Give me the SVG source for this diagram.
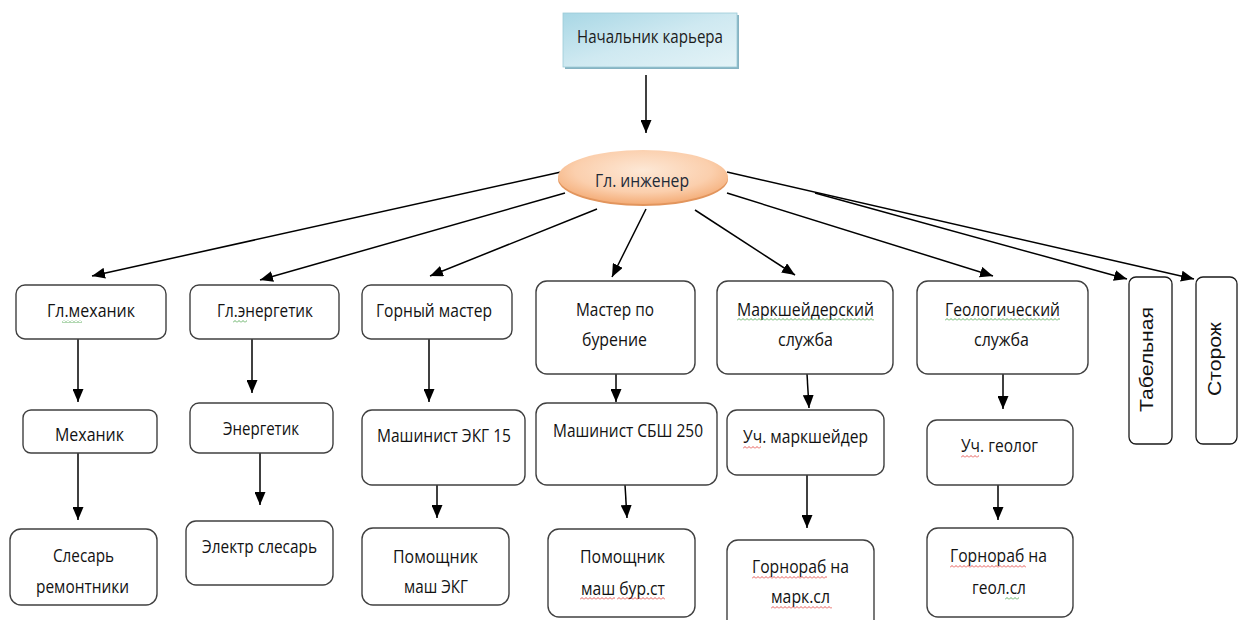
<svg xmlns="http://www.w3.org/2000/svg" width="1246" height="620" viewBox="0 0 1246 620">
  <style>
    .box { fill: #ffffff; stroke: #404040; stroke-width: 1.4; }
    .vbox { fill: #ffffff; stroke: #1a1a1a; stroke-width: 1.3; }
    .t { font-family: "Open Sans", "Noto Sans", sans-serif; font-size: 19px; fill: #121212; }
    .vt { font-family: "Liberation Sans", Arial, sans-serif; font-size: 19px; fill: #121212; }
    .head { fill: #1c1c1c; }
    .chief { fill: #1e2a38; }
  </style>
  <defs>
    <linearGradient id="headFill" x1="0" y1="0" x2="1" y2="1">
      <stop offset="0" stop-color="#a8d7e5"/>
      <stop offset="0.5" stop-color="#cfe9f1"/>
      <stop offset="1" stop-color="#e4f3f7"/>
    </linearGradient>
    <radialGradient id="chiefFill" cx="0.5" cy="0.38" r="0.62">
      <stop offset="0" stop-color="#fde8d6"/>
      <stop offset="0.65" stop-color="#fbcfad"/>
      <stop offset="1" stop-color="#f4ad78"/>
    </radialGradient>
    <marker id="arrow" markerUnits="userSpaceOnUse" viewBox="0 0 13 11" markerWidth="13" markerHeight="11" refX="13" refY="5.5" orient="auto">
      <path d="M0,0 L13,5.5 L0,11 z" fill="#000000"/>
    </marker>
    <pattern id="wavyRed" width="4" height="3" patternUnits="userSpaceOnUse">
      <path d="M0,2.5 L2,0.5 L4,2.5" fill="none" stroke="#e0302a" stroke-width="0.8"/>
    </pattern>
    <pattern id="wavyGreen" width="4" height="3" patternUnits="userSpaceOnUse">
      <path d="M0,2.5 L2,0.5 L4,2.5" fill="none" stroke="#3c9a3c" stroke-width="0.8"/>
    </pattern>
  </defs>

  <rect width="1246" height="620" fill="#ffffff"/>

  <!-- connectors -->
  <g id="connectors" fill="none" stroke="#000000" stroke-width="1.5" marker-end="url(#arrow)">
    <line x1="646" y1="75" x2="646" y2="133"/>
    <line x1="561" y1="172" x2="92" y2="276"/>
    <line x1="565" y1="193" x2="260" y2="280"/>
    <line x1="597" y1="209" x2="430" y2="276"/>
    <line x1="646" y1="209" x2="612" y2="277"/>
    <line x1="695" y1="210" x2="795" y2="275"/>
    <line x1="727" y1="193" x2="993" y2="276"/>
    <line x1="727" y1="172" x2="1194" y2="279"/>
    <line x1="815" y1="193" x2="1127" y2="279"/>

    <line x1="78" y1="339" x2="78" y2="402"/>
    <line x1="78" y1="453" x2="78" y2="520"/>
    <line x1="252" y1="339" x2="252" y2="393"/>
    <line x1="260" y1="453" x2="260" y2="505"/>
    <line x1="429" y1="339" x2="429" y2="402"/>
    <line x1="437" y1="485" x2="437" y2="518"/>
    <line x1="616" y1="374" x2="616" y2="402"/>
    <line x1="625" y1="485" x2="627" y2="518"/>
    <line x1="807" y1="374" x2="809" y2="408"/>
    <line x1="807" y1="475" x2="807" y2="528"/>
    <line x1="1003" y1="374" x2="1003" y2="409"/>
    <line x1="998" y1="485" x2="998" y2="520"/>
  </g>

  <!-- top level -->
  <g id="node-head">
    <rect x="565" y="15" width="174" height="54" fill="#86b3c2"/>
    <rect x="563" y="13" width="174" height="54" fill="url(#headFill)" stroke="#9ccad8" stroke-width="0.8"/>
    <text class="t head" x="577" y="43" textLength="146" lengthAdjust="spacingAndGlyphs">Начальник карьера</text>
  </g>

  <g id="node-chief-engineer">
    <ellipse cx="643" cy="179" rx="85" ry="27" fill="#e2955d"/>
    <ellipse cx="643" cy="177" rx="85" ry="27" fill="url(#chiefFill)"/>
    <text class="t chief" x="595" y="187" textLength="94" lengthAdjust="spacingAndGlyphs">Гл. инженер</text>
  </g>

  <!-- second level -->
  <g id="node-chief-mechanic">
    <rect class="box" x="16" y="285" width="150" height="54" rx="9"/>
    <text class="t" x="47" y="317" textLength="88" lengthAdjust="spacingAndGlyphs">Гл.механик</text>
    <rect x="62" y="320" width="20" height="3" fill="url(#wavyGreen)" transform="translate(0,0)"/>
  </g>
  <g id="node-chief-power">
    <rect class="box" x="190" y="285" width="149" height="54" rx="9"/>
    <text class="t" x="217" y="317" textLength="96" lengthAdjust="spacingAndGlyphs">Гл.энергетик</text>
    <rect width="14" height="3" fill="url(#wavyGreen)" transform="translate(233,320)"/>
  </g>
  <g id="node-mining-foreman">
    <rect class="box" x="362" y="285" width="150" height="54" rx="9"/>
    <text class="t" x="376" y="317" textLength="116" lengthAdjust="spacingAndGlyphs">Горный мастер</text>
  </g>
  <g id="node-drilling-foreman">
    <rect class="box" x="536" y="281" width="159" height="93" rx="11"/>
    <text class="t" x="576" y="316" textLength="78" lengthAdjust="spacingAndGlyphs">Мастер по</text>
    <text class="t" x="582" y="346" textLength="65" lengthAdjust="spacingAndGlyphs">бурение</text>
  </g>
  <g id="node-survey">
    <rect class="box" x="717" y="281" width="176" height="93" rx="11"/>
    <text class="t" x="737" y="316" textLength="137" lengthAdjust="spacingAndGlyphs">Маркшейдерский</text>
    <rect width="137" height="3" fill="url(#wavyGreen)" transform="translate(737,318)"/>
    <text class="t" x="778" y="346" textLength="55" lengthAdjust="spacingAndGlyphs">служба</text>
  </g>
  <g id="node-geology">
    <rect class="box" x="917" y="281" width="171" height="93" rx="11"/>
    <text class="t" x="945" y="316" textLength="115" lengthAdjust="spacingAndGlyphs">Геологический</text>
    <rect width="115" height="3" fill="url(#wavyGreen)" transform="translate(945,318)"/>
    <text class="t" x="974" y="346" textLength="55" lengthAdjust="spacingAndGlyphs">служба</text>
  </g>
  <g id="node-timekeeper">
    <rect class="vbox" x="1129" y="277" width="43" height="167" rx="7"/>
    <text class="vt" transform="translate(1153,412) rotate(-90)" textLength="105" lengthAdjust="spacingAndGlyphs">Табельная</text>
  </g>
  <g id="node-watchman">
    <rect class="vbox" x="1196" y="277" width="41" height="167" rx="7"/>
    <text class="vt" transform="translate(1221,396) rotate(-90)" textLength="74" lengthAdjust="spacingAndGlyphs">Сторож</text>
  </g>

  <!-- third level -->
  <g id="node-mechanic">
    <rect class="box" x="23" y="410" width="134" height="43" rx="8"/>
    <text class="t" x="55" y="441" textLength="69" lengthAdjust="spacingAndGlyphs">Механик</text>
  </g>
  <g id="node-power-engineer">
    <rect class="box" x="190" y="403" width="143" height="50" rx="9"/>
    <text class="t" x="223" y="435" textLength="76" lengthAdjust="spacingAndGlyphs">Энергетик</text>
  </g>
  <g id="node-ekg-operator">
    <rect class="box" x="362" y="410" width="163" height="75" rx="10"/>
    <text class="t" x="377" y="442" textLength="134" lengthAdjust="spacingAndGlyphs">Машинист ЭКГ 15</text>
  </g>
  <g id="node-sbsh-operator">
    <rect class="box" x="536" y="403" width="181" height="82" rx="11"/>
    <text class="t" x="553" y="437" textLength="150" lengthAdjust="spacingAndGlyphs">Машинист СБШ 250</text>
  </g>
  <g id="node-site-surveyor">
    <rect class="box" x="727" y="410" width="157" height="65" rx="10"/>
    <text class="t" x="743" y="443" textLength="125" lengthAdjust="spacingAndGlyphs">Уч. маркшейдер</text>
    <rect width="18" height="3" fill="url(#wavyRed)" transform="translate(743,446)"/>
  </g>
  <g id="node-site-geologist">
    <rect class="box" x="927" y="420" width="146" height="65" rx="10"/>
    <text class="t" x="961" y="452" textLength="77" lengthAdjust="spacingAndGlyphs">Уч. геолог</text>
    <rect width="18" height="3" fill="url(#wavyRed)" transform="translate(961,455)"/>
  </g>

  <!-- fourth level -->
  <g id="node-repair-fitters">
    <rect class="box" x="10" y="529" width="147" height="76" rx="11"/>
    <text class="t" x="53" y="562" textLength="61" lengthAdjust="spacingAndGlyphs">Слесарь</text>
    <text class="t" x="36" y="593" textLength="93" lengthAdjust="spacingAndGlyphs">ремонтники</text>
  </g>
  <g id="node-electric-fitter">
    <rect class="box" x="186" y="521" width="147" height="64" rx="10"/>
    <text class="t" x="202" y="553" textLength="115" lengthAdjust="spacingAndGlyphs">Электр слесарь</text>
  </g>
  <g id="node-ekg-assistant">
    <rect class="box" x="362" y="528" width="147" height="77" rx="11"/>
    <text class="t" x="393" y="563" textLength="85" lengthAdjust="spacingAndGlyphs">Помощник</text>
    <text class="t" x="404" y="593" textLength="64" lengthAdjust="spacingAndGlyphs">маш ЭКГ</text>
  </g>
  <g id="node-drill-assistant">
    <rect class="box" x="548" y="529" width="147" height="88" rx="11"/>
    <text class="t" x="580" y="563" textLength="85" lengthAdjust="spacingAndGlyphs">Помощник</text>
    <text class="t" x="581" y="595" textLength="84" lengthAdjust="spacingAndGlyphs">маш бур.ст</text>
    <rect width="35" height="3" fill="url(#wavyRed)" transform="translate(580,597)"/>
    <rect width="48" height="3" fill="url(#wavyRed)" transform="translate(617,597)"/>
  </g>
  <g id="node-survey-worker">
    <rect class="box" x="727" y="540" width="147" height="92" rx="11"/>
    <text class="t" x="752" y="573" textLength="97" lengthAdjust="spacingAndGlyphs">Горнораб на</text>
    <rect width="75" height="3" fill="url(#wavyRed)" transform="translate(752,576)"/>
    <text class="t" x="771" y="603" textLength="59" lengthAdjust="spacingAndGlyphs">марк.сл</text>
    <rect width="61" height="3" fill="url(#wavyRed)" transform="translate(771,606)"/>
  </g>
  <g id="node-geology-worker">
    <rect class="box" x="927" y="528" width="146" height="89" rx="11"/>
    <text class="t" x="950" y="562" textLength="97" lengthAdjust="spacingAndGlyphs">Горнораб на</text>
    <rect width="76" height="3" fill="url(#wavyRed)" transform="translate(950,565)"/>
    <text class="t" x="972" y="594" textLength="54" lengthAdjust="spacingAndGlyphs">геол.сл</text>
    <rect width="14" height="3" fill="url(#wavyGreen)" transform="translate(1005,597)"/>
  </g>
</svg>
